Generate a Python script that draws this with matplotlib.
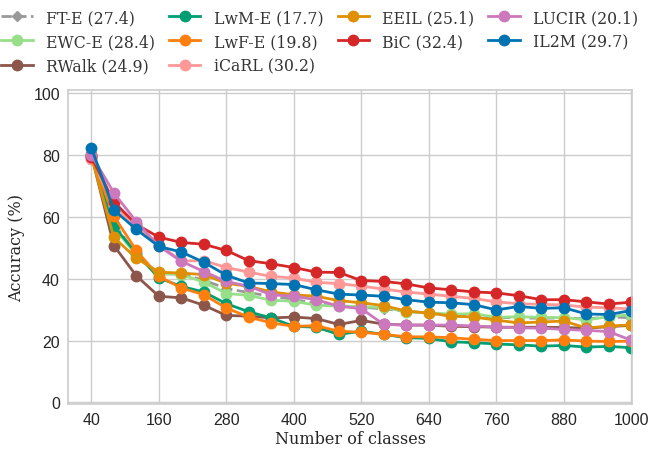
import matplotlib
matplotlib.use("Agg")
import matplotlib.pyplot as plt
import numpy as np

classes = list(range(40, 1001, 40))

methods = ["FT-E", "EWC-E", "RWalk", "LwM-E", "LwF-E", "iCaRL", "EEIL", "BiC", "LUCIR", "IL2M"]
final_acc = [27.4, 28.4, 24.9, 17.7, 19.8, 30.2, 25.1, 32.4, 20.1, 29.7]

ft_e = [80.0, 58.0, 47.5, 41.5, 41.5, 39.5, 36.8, 35.5, 34.3, 33.3, 32.0, 31.2, 30.8,
        30.2, 29.5, 28.8, 28.0, 27.8, 27.5, 27.3, 27.2, 27.3, 27.0, 27.6, 27.4]
ewc_e = [80.0, 56.5, 47.5, 41.8, 41.3, 38.9, 35.2, 34.6, 33.0, 32.7, 31.4, 31.1, 30.9,
         30.7, 29.3, 29.0, 28.5, 28.7, 27.5, 27.7, 27.5, 27.4, 26.7, 27.7, 28.4]
rwalk = [80.0, 50.7, 40.9, 34.3, 33.8, 31.4, 28.1, 27.9, 27.3, 27.6, 27.1, 25.2, 26.5,
         25.3, 25.0, 25.0, 24.6, 24.5, 24.3, 24.3, 24.3, 24.2, 24.0, 24.5, 24.9]
lwm_e = [79.8, 57.0, 48.2, 40.2, 37.5, 35.7, 31.9, 29.3, 27.3, 24.6, 24.3, 22.0, 23.0,
         22.0, 20.9, 20.7, 19.6, 19.3, 18.9, 18.6, 18.2, 18.4, 17.9, 18.1, 17.7]
lwf_e = [79.5, 60.2, 49.1, 40.7, 37.0, 34.8, 30.5, 27.6, 25.7, 24.6, 24.8, 23.0, 22.7,
         22.0, 21.2, 21.2, 20.9, 20.4, 20.0, 20.0, 20.0, 20.2, 19.8, 19.7, 19.8]
icarl = [78.8, 63.5, 57.0, 51.0, 45.7, 45.8, 43.6, 42.1, 40.7, 40.2, 38.8, 38.4, 37.6,
         36.6, 35.7, 35.0, 34.3, 33.6, 32.5, 31.9, 31.7, 31.5, 30.8, 30.6, 30.2]
eeil = [79.5, 53.3, 46.6, 42.1, 41.8, 41.3, 38.5, 37.5, 35.7, 34.8, 34.3, 32.9, 32.2,
        31.3, 29.5, 28.9, 27.9, 27.6, 26.6, 25.7, 26.0, 26.3, 24.1, 24.6, 25.1]
bic = [79.4, 64.8, 57.5, 53.4, 51.7, 51.1, 49.1, 45.8, 44.8, 43.6, 42.1, 42.0, 39.4,
       39.1, 38.3, 37.0, 36.4, 35.7, 35.4, 34.5, 33.2, 33.2, 32.5, 31.8, 32.4]
lucir = [80.0, 67.7, 58.4, 50.5, 45.6, 42.3, 39.1, 37.5, 34.8, 34.3, 33.2, 31.1, 30.3,
         25.2, 25.0, 25.0, 25.0, 24.7, 24.4, 24.1, 24.0, 23.6, 23.3, 22.9, 20.1]
il2m = [82.3, 62.2, 55.9, 50.4, 48.6, 45.3, 41.1, 38.6, 38.4, 38.1, 36.4, 35.0, 34.7,
        34.3, 33.2, 32.4, 32.2, 31.6, 29.9, 31.0, 30.4, 30.6, 28.6, 28.4, 29.7]

series = [ft_e, ewc_e, rwalk, lwm_e, lwf_e, icarl, eeil, bic, lucir, il2m]
colors = ["#999999", "#98df8a", "#8c564b", "#029e73", "#ff7f0e",
          "#ff9896", "#de8f05", "#d62728", "#cc78bc", "#0173b2"]

xticks = [40, 160, 280, 400, 520, 640, 760, 880, 1000]
yticks = [0, 20, 40, 60, 80, 100]

fig = plt.figure(figsize=(6.52, 4.52), dpi=100)
ax = fig.add_axes([0.1048, 0.104, 0.865, 0.695])
ax.set_facecolor("white")

for name, acc, vals, c in zip(methods, final_acc, series, colors):
    if name == "FT-E":
        ax.plot(classes, vals, color=c, linestyle="--", marker="D", markersize=5,
                linewidth=2.0, label=f"{name} ({acc})")
    else:
        ax.plot(classes, vals, color=c, linestyle="-", marker="o", markersize=7.5,
                linewidth=2.0, label=f"{name} ({acc})")

ax.set_xlim(-1, 1002)
ax.set_ylim(-0.5, 101)
ax.set_xticks(xticks)
ax.set_yticks(yticks)
ax.grid(True, color="#cccccc", linewidth=1.0)
ax.set_axisbelow(True)
for s in ax.spines.values():
    s.set_color("#cccccc")
    s.set_linewidth(1.2)
ax.tick_params(axis="both", length=0, pad=6, labelsize=11.5, labelcolor="#262626")
for lbl in ax.get_xticklabels() + ax.get_yticklabels():
    lbl.set_family("Liberation Sans")

ax.set_xlabel("Number of classes", family="DejaVu Serif", fontsize=11.5, color="#262626", labelpad=2)
ax.set_ylabel("Accuracy (%)", family="DejaVu Serif", fontsize=11.5, color="#262626", labelpad=6)

handles, labels = ax.get_legend_handles_labels()
leg = fig.legend(handles, labels, loc="upper left", bbox_to_anchor=(-0.003, 0.985), ncol=4,
                 frameon=False, prop={"family": "DejaVu Serif", "size": 11.3},
                 handlelength=2.0, handletextpad=0.85, columnspacing=0.9,
                 labelspacing=0.45, borderaxespad=0.0, borderpad=0.2,
                 labelcolor="#333333")

fig.savefig("out.png", dpi=100, facecolor="white")
